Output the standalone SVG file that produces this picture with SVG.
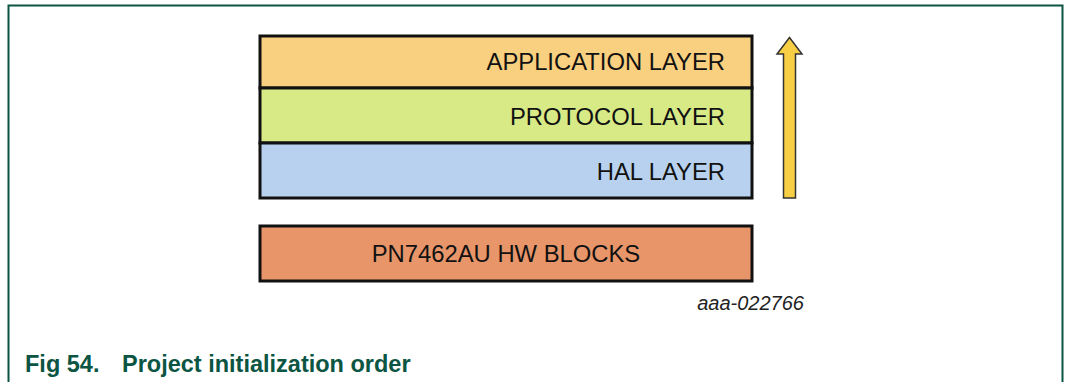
<svg xmlns="http://www.w3.org/2000/svg" width="1066" height="382" viewBox="0 0 1066 382">
<style>
.box{stroke:#111;stroke-width:3}
.lbl{font-family:"Liberation Sans",Arial,sans-serif;font-size:23.8px;fill:#111}
.cap{font-family:"Liberation Sans",Arial,sans-serif;font-size:23.5px;font-weight:bold;fill:#0b5542}
</style>
<rect width="1066" height="382" fill="#fff"/>
<path d="M8.5 390 V5.5 H1062.5 V390" fill="none" stroke="#0b5542" stroke-width="2"/>
<g id="app"><rect class="box" x="260" y="36" width="492" height="52" fill="#f9cf80"/><text class="lbl" x="725" y="70" text-anchor="end">APPLICATION LAYER</text></g>
<g id="protocol"><rect class="box" x="260" y="88" width="492" height="55" fill="#d8ea86"/><text class="lbl" x="725" y="125" text-anchor="end">PROTOCOL LAYER</text></g>
<g id="hal"><rect class="box" x="260" y="143" width="492" height="55" fill="#b8d1ee"/><text class="lbl" x="725" y="180" text-anchor="end">HAL LAYER</text></g>
<g id="hw"><rect class="box" x="260" y="226" width="492" height="55" fill="#e8956a"/><text class="lbl" x="506" y="262" text-anchor="middle">PN7462AU HW BLOCKS</text></g>
<g id="connectors"><path d="M783.5 198 V54 H777 L789.5 37.5 L802 54 H795.5 V198 Z" fill="#f8cf44" stroke="#333" stroke-width="1.5"/></g>
<text x="804" y="310" text-anchor="end" font-family="'Liberation Sans',Arial,sans-serif" font-size="20" font-style="italic" fill="#222">aaa-022766</text>
<text class="cap" x="25" y="372">Fig 54.</text>
<text class="cap" x="122" y="372">Project initialization order</text>
</svg>
